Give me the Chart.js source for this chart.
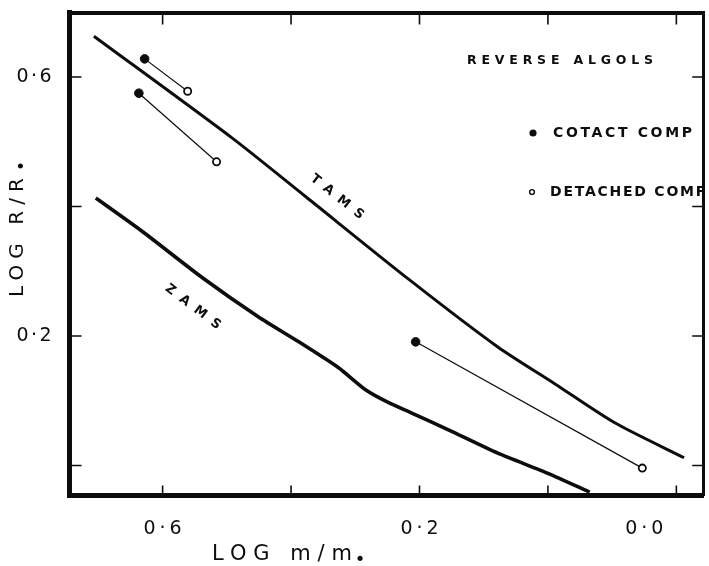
<!DOCTYPE html>
<html>
<head>
<meta charset="utf-8">
<title>Reverse Algols</title>
<script src="https://cdn.jsdelivr.net/npm/chart.js"></script>
<style>
  html, body { margin: 0; padding: 0; background: #fff; }
</style>
</head>
<body>
<canvas id="chart" width="709" height="566"></canvas>
<script>
// values: log m/m(sun) and log R/R(sun)
const tamsLogM = [0.707, 0.492, 0.377, 0.216, 0.078, -0.011, -0.104, -0.212];
const tamsLogR = [0.663, 0.506, 0.415, 0.287, 0.183, 0.126, 0.066, 0.012];

const zamsLogM = [0.704, 0.631, 0.538, 0.450, 0.388, 0.326, 0.284, 0.248, 0.212, 0.155, 0.078, 0.000, -0.065];
const zamsLogR = [0.413, 0.361, 0.290, 0.229, 0.191, 0.151, 0.117, 0.097, 0.081, 0.055, 0.019, -0.012, -0.041];

// each contact component is joined to its detached companion
const contactLogM = [0.628, 0.637, 0.206];
const contactLogR = [0.628, 0.575, 0.191];
const detachedLogM = [0.561, 0.516, -0.147];
const detachedLogR = [0.578, 0.469, -0.004];

const xTickMarks = [0.6, 0.4, 0.2, 0.0, -0.2];
const yTickMarks = [0.6, 0.4, 0.2, 0.0];
const xTickLabels = ['0·6', '0·2', '0·0'];
const xTickLabelAt = [0.6, 0.2, -0.15];
const yTickLabels = ['0·6', '0·2'];
const yTickLabelAt = [0.6, 0.2];

const FONT = '"DejaVu Sans", sans-serif';
const INK = '#0d0d0d';

function toPoints(xs, ys) {
    return xs.map((x, i) => ({ x: x, y: ys[i] }));
}

// draws text stretched to a given width (hand lettering is widely spaced)
function spaced(ctx, text, cx, cy, font, width, angle, gap) {
    ctx.save();
    ctx.font = font + ' ' + FONT;
    ctx.fillStyle = INK;
    const plain = ctx.measureText(text).width;
    if (gap === undefined) {
        gap = text.length > 1 ? (width - plain) / (text.length - 1) : 0;
    }
    const total = plain + gap * (text.length - 1);
    ctx.translate(cx, cy);
    ctx.rotate(angle || 0);
    ctx.textBaseline = 'middle';
    ctx.textAlign = 'left';
    if ('letterSpacing' in ctx) {
        ctx.letterSpacing = gap + 'px';
        ctx.fillText(text, -total / 2, 0);
    } else {
        let x = -total / 2;
        for (const ch of text) {
            ctx.fillText(ch, x, 0);
            x += ctx.measureText(ch).width + gap;
        }
    }
    ctx.restore();
    return { gap: gap, total: total };
}

const pairDatasets = contactLogM.map((m, i) => ({
    label: 'pair ' + (i + 1),
    data: [{ x: m, y: contactLogR[i] }, { x: detachedLogM[i], y: detachedLogR[i] }],
    showLine: true,
    borderColor: INK,
    borderWidth: 1.2,
    pointRadius: [4.3, 3.6],
    pointBackgroundColor: [INK, '#fff'],
    pointBorderColor: INK,
    pointBorderWidth: [1, 1.8]
}));

const figureText = {
    id: 'figureText',
    afterDatasetsDraw(chart) {
        const ctx = chart.ctx;
        const xs = chart.scales.x;
        const ys = chart.scales.y;
        const a = chart.chartArea;

        // inward tick marks on all four sides
        ctx.save();
        ctx.strokeStyle = INK;
        ctx.lineWidth = 1.6;
        ctx.beginPath();
        xTickMarks.forEach(v => {
            const px = xs.getPixelForValue(v);
            ctx.moveTo(px, a.top); ctx.lineTo(px, a.top + 12);
            ctx.moveTo(px, a.bottom); ctx.lineTo(px, a.bottom - 10);
        });
        yTickMarks.forEach(v => {
            const py = ys.getPixelForValue(v);
            ctx.moveTo(a.left, py); ctx.lineTo(a.left + 12, py);
            ctx.moveTo(a.right, py); ctx.lineTo(a.right - 11, py);
        });
        ctx.stroke();
        ctx.restore();

        // tick labels
        xTickLabels.forEach((t, i) => spaced(ctx, t, xs.getPixelForValue(xTickLabelAt[i]), 529, '19px', 38));
        yTickLabels.forEach((t, i) => spaced(ctx, t, 34, ys.getPixelForValue(yTickLabelAt[i]), '19px', 35));

        // axis titles, with the solar symbol set low like a subscript
        spaced(ctx, 'LOG m/m', 282, 555, '21px', 140);
        spaced(ctx, '•', 360, 560, '18px', 0);
        spaced(ctx, 'LOG R/R', 17.5, 237.5, '20px', 119, -Math.PI / 2);
        spaced(ctx, '•', 23, 166, '17px', 0, -Math.PI / 2);

        // curve names
        spaced(ctx, 'TAMS', 337, 197, 'bold 13px', 64, 0.67);
        spaced(ctx, 'ZAMS', 193, 307, 'bold 13px', 66, 0.645);

        // key, clipped by the frame like the original
        ctx.save();
        ctx.beginPath();
        ctx.rect(a.left, a.top, a.right - a.left, a.bottom - a.top);
        ctx.clip();
        spaced(ctx, 'REVERSE ALGOLS', 560, 61, 'bold 12.5px', 186);
        spaced(ctx, 'COTACT COMP', 622.5, 133, 'bold 14px', 139);
        spaced(ctx, 'DETACHED COMP', 550 + 78, 192, 'bold 14px', 156);

        ctx.fillStyle = INK;
        ctx.beginPath();
        ctx.arc(533, 133, 3.6, 0, Math.PI * 2);
        ctx.fill();
        ctx.strokeStyle = INK;
        ctx.lineWidth = 1.4;
        ctx.beginPath();
        ctx.arc(532, 192, 2.4, 0, Math.PI * 2);
        ctx.stroke();
        ctx.restore();
    }
};

const frameAxis = (position, width) => ({
    type: 'linear',
    position: position,
    display: true,
    z: 1,
    grid: { display: false, drawTicks: false },
    ticks: { display: false },
    border: { display: true, color: INK, width: width, z: 1 }
});

const scales = {
    x: Object.assign(frameAxis('bottom', 5), { min: -0.2418, max: 0.745, reverse: true,
        afterFit(s) { s.height = 70.5; } }),
    x2: Object.assign(frameAxis('top', 4), { min: -0.2418, max: 0.745, reverse: true,
        afterFit(s) { s.height = 12.5; } }),
    y: Object.assign(frameAxis('left', 5), { min: -0.0463, max: 0.6996,
        afterFit(s) { s.width = 69.5; } }),
    y2: Object.assign(frameAxis('right', 3), { min: -0.0463, max: 0.6996,
        afterFit(s) { s.width = 3; } })
};

new Chart(document.getElementById('chart').getContext('2d'), {
    type: 'scatter',
    data: {
        datasets: [
            {
                label: 'TAMS',
                data: toPoints(tamsLogM, tamsLogR),
                showLine: true,
                borderColor: INK,
                borderWidth: 3,
                pointRadius: 0,
                tension: 0.25
            },
            {
                label: 'ZAMS',
                data: toPoints(zamsLogM, zamsLogR),
                showLine: true,
                borderColor: INK,
                borderWidth: 3.6,
                pointRadius: 0,
                tension: 0.2
            }
        ].concat(pairDatasets)
    },
    options: {
        responsive: false,
        animation: false,
        devicePixelRatio: 1,
        layout: { padding: 0 },
        scales: scales,
        plugins: {
            legend: { display: false },
            tooltip: { enabled: false }
        }
    },
    plugins: [figureText]
});
</script>
</body>
</html>
